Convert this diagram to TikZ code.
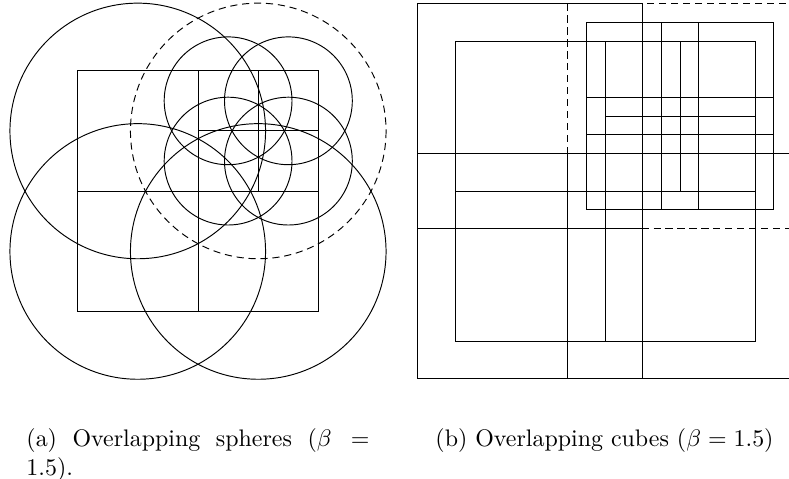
\documentclass[tikz,border=0pt]{standalone}
\usepackage{amsmath, amssymb}
\usepackage{tikz}
\usetikzlibrary{positioning}
\tikzset{>=latex}
\tikzset{font=\normalsize}
\tikzset{gridline/.style={line width=0.4pt},
  ballline/.style={line width=0.4pt},
  boxline/.style={line width=0.4pt},
  hidden/.style={dash pattern=on 3pt off 2pt}}

\begin{document}
\begin{tikzpicture}[x=0.418pt,y=-0.418pt]
  \useasboundingbox (0,0) rectangle (789,478);
  % (a) grid of cells
  \draw[gridline] (77.5,70.7) rectangle (318.5,311.7);
  \draw[gridline] (198,70.7) -- (198,311.7);
  \draw[gridline] (77.5,191.2) -- (318.5,191.2);
  \draw[gridline] (258.25,70.7) -- (258.25,191.2);
  \draw[gridline] (198,130.95) -- (318.5,130.95);
  % (a) spheres round the cells
  \draw[ballline] (137.75,130.95) circle[radius=127.8];
  \draw[ballline,hidden] (258.25,130.95) circle[radius=127.8];
  \draw[ballline] (137.75,251.45) circle[radius=127.8];
  \draw[ballline] (258.25,251.45) circle[radius=127.8];
  \draw[ballline] (228.1,100.8) circle[radius=63.9];
  \draw[ballline] (288.4,100.8) circle[radius=63.9];
  \draw[ballline] (228.1,161.1) circle[radius=63.9];
  \draw[ballline] (288.4,161.1) circle[radius=63.9];
  % (b) grid of cells
  \draw[gridline] (455,41) rectangle (755,341);
  \draw[gridline] (605,41) -- (605,341);
  \draw[gridline] (455,191) -- (755,191);
  \draw[gridline] (680,41) -- (680,191);
  \draw[gridline] (605,116) -- (755,116);
  % (b) cubes round the cells
  \draw[boxline,hidden] (567.5,3.5) rectangle (792.5,228.5);
  \draw[boxline] (417.5,3.5) rectangle (642.5,228.5);
  \draw[boxline] (417.5,153.5) rectangle (642.5,378.5);
  \draw[boxline] (567.5,153.5) rectangle (792.5,378.5);
  \draw[boxline] (586.25,22.25) rectangle (698.75,134.75);
  \draw[boxline] (661.25,22.25) rectangle (773.75,134.75);
  \draw[boxline] (586.25,97.25) rectangle (698.75,209.75);
  \draw[boxline] (661.25,97.25) rectangle (773.75,209.75);
  % captions
  \node[anchor=north west, inner sep=0pt, text width=143.4pt, align=justify]
    (capsph) at (26,428) {(a) Overlapping spheres ($\beta = 1.5$).};
  \node[anchor=north, inner sep=0pt, text width=143.4pt, align=center]
    (capcub) at (604.5,428) {(b) Overlapping cubes ($\beta = 1.5$)};
\end{tikzpicture}
\end{document}
